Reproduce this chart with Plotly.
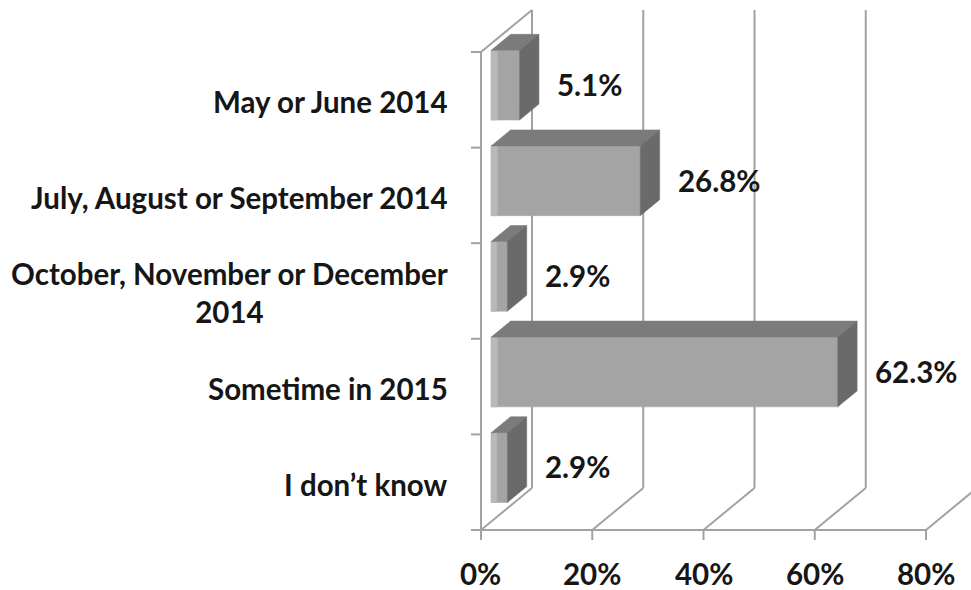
import plotly.graph_objects as go

# Survey answers, listed bottom band first
categories = [
    "I don’t know",
    "Sometime in 2015",
    "October, November or December<br>2014",
    "July, August or September 2014",
    "May or June 2014",
]
values = [2.9, 62.3, 2.9, 26.8, 5.1]
tick_values = [0, 20, 40, 60, 80]
tick_labels = ["0%", "20%", "40%", "60%", "80%"]

# Oblique 3-D look: depth vector (in percent units, band units)
DEPTH_X, DEPTH_Y = 9.17, 0.44
BAR_FRONT, BAR_BACK = 0.2, 0.58      # bar depth position (0 = front, 1 = back wall)
BAR_LO, BAR_HI = 0.2, 0.93           # bar thickness inside its band

FRONT_COL = "#a4a4a4"
EDGE_COL = "#b9b9b9"
TOP_COL = "#7b7b7b"
SIDE_COL = "#6a6a6a"
GRID_COL = "#a2a2a2"
TEXT_COL = "#161616"
FONT = dict(family="Lato", size=29.5, color=TEXT_COL, weight="bold")

n = len(categories)
x_max = tick_values[-1]

fig = go.Figure()


def add_lines(segments, color=GRID_COL, width=2):
    xs, ys = [], []
    for (x0, y0), (x1, y1) in segments:
        xs += [x0, x1, None]
        ys += [y0, y1, None]
    fig.add_trace(go.Scatter(x=xs, y=ys, mode="lines", hoverinfo="skip",
                             line=dict(color=color, width=width),
                             showlegend=False))


def add_poly(pts, color):
    xs = [p[0] for p in pts] + [pts[0][0]]
    ys = [p[1] for p in pts] + [pts[0][1]]
    fig.add_trace(go.Scatter(x=xs, y=ys, mode="lines", fill="toself",
                             fillcolor=color, hoverinfo="skip",
                             line=dict(color=color, width=0.5),
                             showlegend=False))


# Back wall gridlines and floor diagonals
segs = []
for t in tick_values:
    segs.append(((t + DEPTH_X, DEPTH_Y), (t + DEPTH_X, n + DEPTH_Y)))
    segs.append(((t, 0), (t + DEPTH_X, DEPTH_Y)))
# Left wall edges
segs.append(((0, n), (DEPTH_X, n + DEPTH_Y)))
# Front axes
segs.append(((0, 0), (x_max, 0)))
segs.append(((0, 0), (0, n)))
# Tick marks
for t in tick_values:
    segs.append(((t, 0), (t, -0.105)))
for k in range(n + 1):
    segs.append(((0, k), (-1.8, k)))
add_lines(segs)

# Bars: front, top and side faces (plus a lit strip on the front's left end)
a, b = BAR_FRONT * DEPTH_X, BAR_FRONT * DEPTH_Y
c, d = BAR_BACK * DEPTH_X, BAR_BACK * DEPTH_Y
for k, v in enumerate(values):
    lo, hi = k + BAR_LO, k + BAR_HI
    add_poly([(a, lo + b), (a + v, lo + b), (a + v, hi + b), (a, hi + b)], FRONT_COL)
    strip = min(1.1, v * 0.35)
    add_poly([(a, lo + b), (a + strip, lo + b), (a + strip, hi + b), (a, hi + b)], EDGE_COL)
    add_poly([(a, hi + b), (a + v, hi + b), (c + v, hi + d), (c, hi + d)], TOP_COL)
    add_poly([(a + v, lo + b), (c + v, lo + d), (c + v, hi + d), (a + v, hi + b)], SIDE_COL)

annotations = []
# Value labels next to each bar
for k, v in enumerate(values):
    annotations.append(dict(x=v + a + 6.4, y=k + 0.66, text=f"{v:.1f}%",
                            xanchor="left", yanchor="middle", showarrow=False,
                            font=FONT))
# Category labels
for k, cat in enumerate(categories):
    annotations.append(dict(x=-5.6, y=k + 0.48, text=cat, xanchor="right",
                            yanchor="middle", align="center", showarrow=False,
                            font=FONT))
# Percent tick labels
for t, lab in zip(tick_values, tick_labels):
    annotations.append(dict(x=t, y=-0.46, text=lab, xanchor="center",
                            yanchor="middle", showarrow=False, font=FONT))

fig.update_layout(
    width=971, height=590, autosize=False,
    margin=dict(l=0, r=0, t=0, b=0),
    paper_bgcolor="white", plot_bgcolor="white",
    xaxis=dict(range=[-86.47, 88.09], visible=False, fixedrange=True),
    yaxis=dict(range=[-0.6276, 5.544], visible=False, fixedrange=True),
    annotations=annotations,
    showlegend=False,
)

fig.write_html("out.html")
